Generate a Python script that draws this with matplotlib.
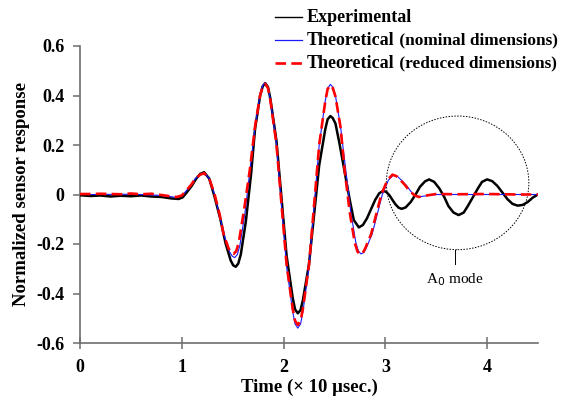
import matplotlib
matplotlib.use("Agg")
import matplotlib.pyplot as plt
from matplotlib.lines import Line2D
from matplotlib.patches import Ellipse

plt.rcParams["font.family"] = ["Liberation Serif", "DejaVu Serif"]

# ---------------------------------------------------------------------
# Data (time in units of 10 usec)
# ---------------------------------------------------------------------
EXP_T = [0.0, 0.1, 0.2, 0.3, 0.4, 0.5, 0.6, 0.7, 0.8, 0.9,
         0.97, 1.01, 1.05, 1.10, 1.14, 1.18, 1.22,
         1.27, 1.32, 1.38, 1.43, 1.48, 1.505, 1.53, 1.555,
         1.58, 1.63, 1.68, 1.72, 1.77, 1.795, 1.82, 1.847,
         1.87, 1.93, 1.98, 2.03, 2.09, 2.113, 2.14, 2.167,
         2.19, 2.25, 2.30, 2.35, 2.41, 2.433, 2.46, 2.483,
         2.51, 2.55, 2.60, 2.65, 2.69, 2.74,
         2.78, 2.82, 2.86, 2.90, 2.94, 2.98,
         3.01, 3.04, 3.07, 3.10, 3.13, 3.16,
         3.20, 3.25, 3.30, 3.34, 3.39, 3.43,
         3.48, 3.53, 3.58, 3.62, 3.67, 3.72,
         3.77, 3.81, 3.86, 3.91, 3.95, 4.00,
         4.05, 4.10, 4.15, 4.20, 4.25, 4.30,
         4.35, 4.40, 4.45, 4.50]
EXP_V = [-0.003, -0.006, -0.004, -0.008, -0.005, -0.007, -0.004, -0.008, -0.010, -0.016,
         -0.018, -0.011, 0.009, 0.036, 0.063, 0.083, 0.090,
         0.064, -0.006, -0.101, -0.197, -0.266, -0.286, -0.292, -0.279,
         -0.242, -0.107, 0.079, 0.265, 0.400, 0.437, 0.450, 0.434,
         0.388, 0.218, -0.015, -0.248, -0.418, -0.464, -0.480, -0.467,
         -0.427, -0.281, -0.082, 0.118, 0.264, 0.304, 0.317, 0.309,
         0.287, 0.205, 0.092, -0.021, -0.103, -0.133,
         -0.123, -0.096, -0.059, -0.022, 0.005, 0.015,
         0.010, -0.003, -0.022, -0.040, -0.053, -0.058,
         -0.052, -0.030, 0.002, 0.031, 0.053, 0.061,
         0.051, 0.025, -0.011, -0.047, -0.073, -0.083,
         -0.073, -0.047, -0.011, 0.025, 0.051, 0.061,
         0.054, 0.035, 0.008, -0.019, -0.038, -0.045,
         -0.042, -0.030, -0.012, 0.000]

NOM_T = [0.0, 0.2, 0.4, 0.6, 0.8, 0.95,
         1.00, 1.04, 1.09, 1.13, 1.18, 1.22,
         1.27, 1.32, 1.37, 1.42, 1.47, 1.495, 1.52, 1.545,
         1.57, 1.62, 1.67, 1.72, 1.77, 1.795, 1.82, 1.847,
         1.87, 1.93, 1.98, 2.03, 2.09, 2.113, 2.14, 2.167,
         2.19, 2.25, 2.30, 2.35, 2.41, 2.433, 2.46, 2.485,
         2.51, 2.56, 2.61, 2.66, 2.71, 2.735, 2.76, 2.787,
         2.81, 2.87, 2.92, 2.97, 3.03, 3.08,
         3.12, 3.16, 3.21, 3.25, 3.29, 3.34,
         3.42, 3.50, 3.80, 4.20, 4.50]
NOM_V = [0.000, 0.000, 0.001, 0.000, -0.004, -0.012,
         -0.005, 0.013, 0.038, 0.063, 0.081, 0.088,
         0.065, 0.002, -0.084, -0.169, -0.232, -0.249, -0.255, -0.243,
         -0.208, -0.078, 0.099, 0.275, 0.405, 0.440, 0.452, 0.435,
         0.386, 0.204, -0.044, -0.292, -0.474, -0.523, -0.540, -0.523,
         -0.474, -0.294, -0.048, 0.199, 0.379, 0.428, 0.445, 0.433,
         0.399, 0.274, 0.103, -0.069, -0.194, -0.228, -0.240, -0.235,
         -0.219, -0.160, -0.081, -0.001, 0.058, 0.079,
         0.073, 0.057, 0.035, 0.013, -0.003, -0.009,
         -0.004, 0.000, 0.000, 0.000, 0.000]

RED_T = [0.0, 0.1, 0.2, 0.3, 0.4, 0.5, 0.6, 0.7, 0.8, 0.9,
         0.95, 1.00, 1.04, 1.09, 1.13, 1.18, 1.22,
         1.27, 1.32, 1.37, 1.41, 1.46, 1.486, 1.51, 1.536,
         1.56, 1.61, 1.67, 1.72, 1.77, 1.795, 1.82, 1.847,
         1.87, 1.93, 1.98, 2.03, 2.09, 2.113, 2.14, 2.167,
         2.19, 2.25, 2.30, 2.35, 2.41, 2.433, 2.46, 2.484,
         2.51, 2.56, 2.60, 2.65, 2.70, 2.726, 2.75, 2.777,
         2.80, 2.86, 2.91, 2.96, 3.02, 3.07,
         3.11, 3.15, 3.20, 3.24, 3.29, 3.33,
         3.42, 3.50, 3.70, 4.00, 4.30, 4.50]
RED_V = [0.002, 0.002, 0.003, 0.002, 0.001, 0.004, 0.001, 0.003, -0.002, -0.008,
         -0.010, -0.004, 0.014, 0.038, 0.062, 0.080, 0.086,
         0.064, 0.005, -0.077, -0.159, -0.218, -0.234, -0.240, -0.228,
         -0.194, -0.068, 0.104, 0.275, 0.401, 0.435, 0.447, 0.430,
         0.382, 0.204, -0.040, -0.284, -0.462, -0.510, -0.527, -0.511,
         -0.462, -0.285, -0.043, 0.200, 0.377, 0.426, 0.442, 0.430,
         0.396, 0.271, 0.100, -0.071, -0.196, -0.230, -0.242, -0.237,
         -0.220, -0.161, -0.081, -0.001, 0.058, 0.080,
         0.074, 0.058, 0.035, 0.013, -0.004, -0.010,
         -0.003, 0.002, 0.001, 0.002, 0.000, 0.000]

X_TICKS = [0, 1, 2, 3, 4]
Y_TICKS = [-0.6, -0.4, -0.2, 0.0, 0.2, 0.4, 0.6]
Y_TICK_LABELS = ["-0.6", "-0.4", "-0.2", "0", "0.2", "0.4", "0.6"]

# A0 mode marker (circle centre / size in data units)
A0_CENTER = (3.71, 0.047)
A0_SIZE = (1.40, 0.54)

# ---------------------------------------------------------------------
# Plot
# ---------------------------------------------------------------------
fig = plt.figure(figsize=(5.61, 4.05), dpi=100)
ax = fig.add_axes([80 / 561, 62 / 405, 458 / 561, 297 / 405])

ax.plot(EXP_T, EXP_V, color="black", lw=1.8, zorder=3)
ax.plot(NOM_T, NOM_V, color="#1a1aff", lw=0.8, zorder=4)
ax.plot(RED_T, RED_V, color="#ff0000", lw=1.9, dashes=(4, 2), zorder=5)

ax.add_patch(Ellipse(A0_CENTER, A0_SIZE[0], A0_SIZE[1], fill=False,
                     ls=(0, (1.5, 1.5)), lw=0.7, color="black", zorder=2))
ax.plot([3.68, 3.68], [-0.225, -0.28], color="black", lw=0.7)
ax.text(3.68, -0.345, r"A$_0$ mode", ha="center", va="center", fontsize=11,
        family=["Liberation Serif"])

ax.set_xlim(0, 4.5)
ax.set_ylim(-0.6, 0.6)
ax.set_xticks(X_TICKS)
ax.set_xticklabels([str(t) for t in X_TICKS])
ax.set_yticks(Y_TICKS)
ax.set_yticklabels(Y_TICK_LABELS)

for s in ("top", "right"):
    ax.spines[s].set_visible(False)
for s in ("left", "bottom"):
    ax.spines[s].set_color("#6e6e6e")
    ax.spines[s].set_linewidth(1.2)

ax.tick_params(axis="y", direction="out", length=5, width=1.1, color="#6e6e6e",
               pad=6, labelsize=13)
ax.tick_params(axis="x", direction="inout", length=9, width=1.1, color="#6e6e6e",
               pad=7, labelsize=13)
for lab in ax.get_xticklabels() + ax.get_yticklabels():
    lab.set_fontweight("bold")

ax.set_xlabel("Time (× 10 μsec.)", fontsize=13.5, fontweight="bold", labelpad=2)
ax.set_ylabel("Normalized sensor response", fontsize=13.5, fontweight="bold",
              labelpad=5)

# Legend, drawn by hand so the parenthesised part can be a little smaller
rows = [
    (0.958, dict(color="black", lw=1.0), "Experimental", ""),
    (0.901, dict(color="#1a1aff", lw=0.9), "Theoretical", " (nominal dimensions)"),
    (0.844, dict(color="#ff0000", lw=1.9, dashes=(4, 2)), "Theoretical",
     " (reduced dimensions)"),
]
for y, style, main, extra in rows:
    fig.add_artist(Line2D([275 / 561, 302 / 561], [y, y], transform=fig.transFigure,
                          **style))
    t = fig.text(307 / 561, y, main, fontsize=13, fontweight="bold", va="center")
    if extra:
        ax.annotate(extra, xy=(1, 0), xycoords=t, fontsize=12.4, fontweight="bold",
                    va="bottom", ha="left", annotation_clip=False)

fig.savefig("out.png", dpi=100)
